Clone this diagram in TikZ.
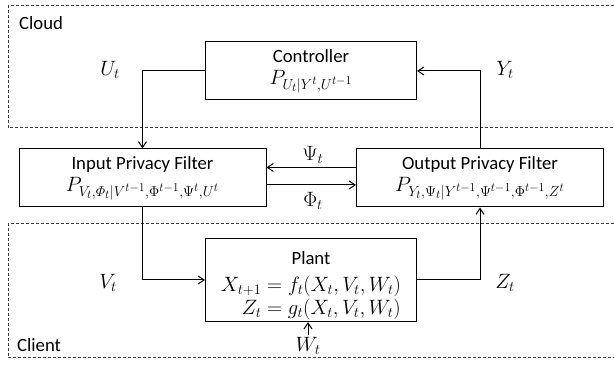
\documentclass[tikz,border=0pt]{standalone}
\usepackage{amsmath}
\usepackage{fontspec}
\setmainfont{Carlito}
\DeclareMathSizes{18.7}{20.5}{15}{12}
\usepackage{tikz}
\usetikzlibrary{arrows.meta,positioning,calc}
\definecolor{ink}{HTML}{000000}
\definecolor{zone}{HTML}{3A3A3A}

\begin{document}
\begin{tikzpicture}[x=1pt,y=-1pt,
  font=\fontsize{18.7}{24}\selectfont,
  blk/.style={draw=ink, line width=1pt, align=center, inner sep=0pt, minimum width=211pt},
  arr/.style={draw=ink, line width=1pt, -{Straight Barb[length=6pt,width=8pt]}},
  zoneline/.style={draw=zone, line width=1pt, dash pattern=on 3pt off 2pt},
  lbl/.style={inner sep=2pt}]
  \useasboundingbox (0,0) rectangle (614,366);
  \draw[zoneline] (614,6) -- (8,6) -- (8,128) -- (614,128);
  \draw[zoneline] (614,224) -- (8,224) -- (8,358) -- (614,358);
  \node[lbl, anchor=west] (cloud) at (17,23) {Cloud};
  \node[lbl, anchor=west] (client) at (15,345) {Client};

  \node[blk, minimum height=58pt] (ctrl) at (311,71) {Controller\\[-2pt] $P_{U_t|Y^t,U^{t-1}}$};
  \node[blk, minimum width=247pt, minimum height=58pt] (ipf) at (142.5,178)
    {Input Privacy Filter\\[-2pt] $P_{V_t,\varPhi_t|V^{t-1},\Phi^{t-1},\Psi^t,U^t}$};
  \node[blk, minimum width=247pt, minimum height=58pt] (opf) at (480,178)
    {Output Privacy Filter\\[-2pt] $P_{Y_t,\Psi_t|Y^{t-1},\Psi^{t-1},\Phi^{t-1},Z^t}$};
  \node[blk, minimum height=77pt] (plant) at (311,280)
    {\rule{0pt}{26pt}Plant\\[3pt] $\begin{aligned}[t] X_{t+1} &= f_t(X_t,V_t,W_t)\\[-4pt] Z_t &= g_t(X_t,V_t,W_t)\end{aligned}$};

  \node[lbl] (ut) at (110,70) {$U_t$};
  \node[lbl] (yt) at (505,70) {$Y_t$};
  \node[lbl] (psit) at (313,155) {$\Psi_t$};
  \node[lbl] (phit) at (313,201) {$\Phi_t$};
  \node[lbl] (vt) at (108,283) {$V_t$};
  \node[lbl] (zt) at (505,283) {$Z_t$};
  \node[lbl] (wt) at (308,346) {$W_t$};

  \draw[arr] (ctrl.west) -| (ipf.north);
  \draw[arr] (ipf.south) |- (plant.west);
  \draw[arr] (plant.east) -| (opf.south);
  \draw[arr] (opf.north) |- (ctrl.east);
  \draw[arr] ([yshift=10.5pt]opf.west) -- ([yshift=10.5pt]ipf.east);
  \draw[arr] ([yshift=-7pt]ipf.east) -- ([yshift=-7pt]opf.west);
  \draw[arr] (wt) -- (wt |- plant.south);
\end{tikzpicture}
\end{document}
